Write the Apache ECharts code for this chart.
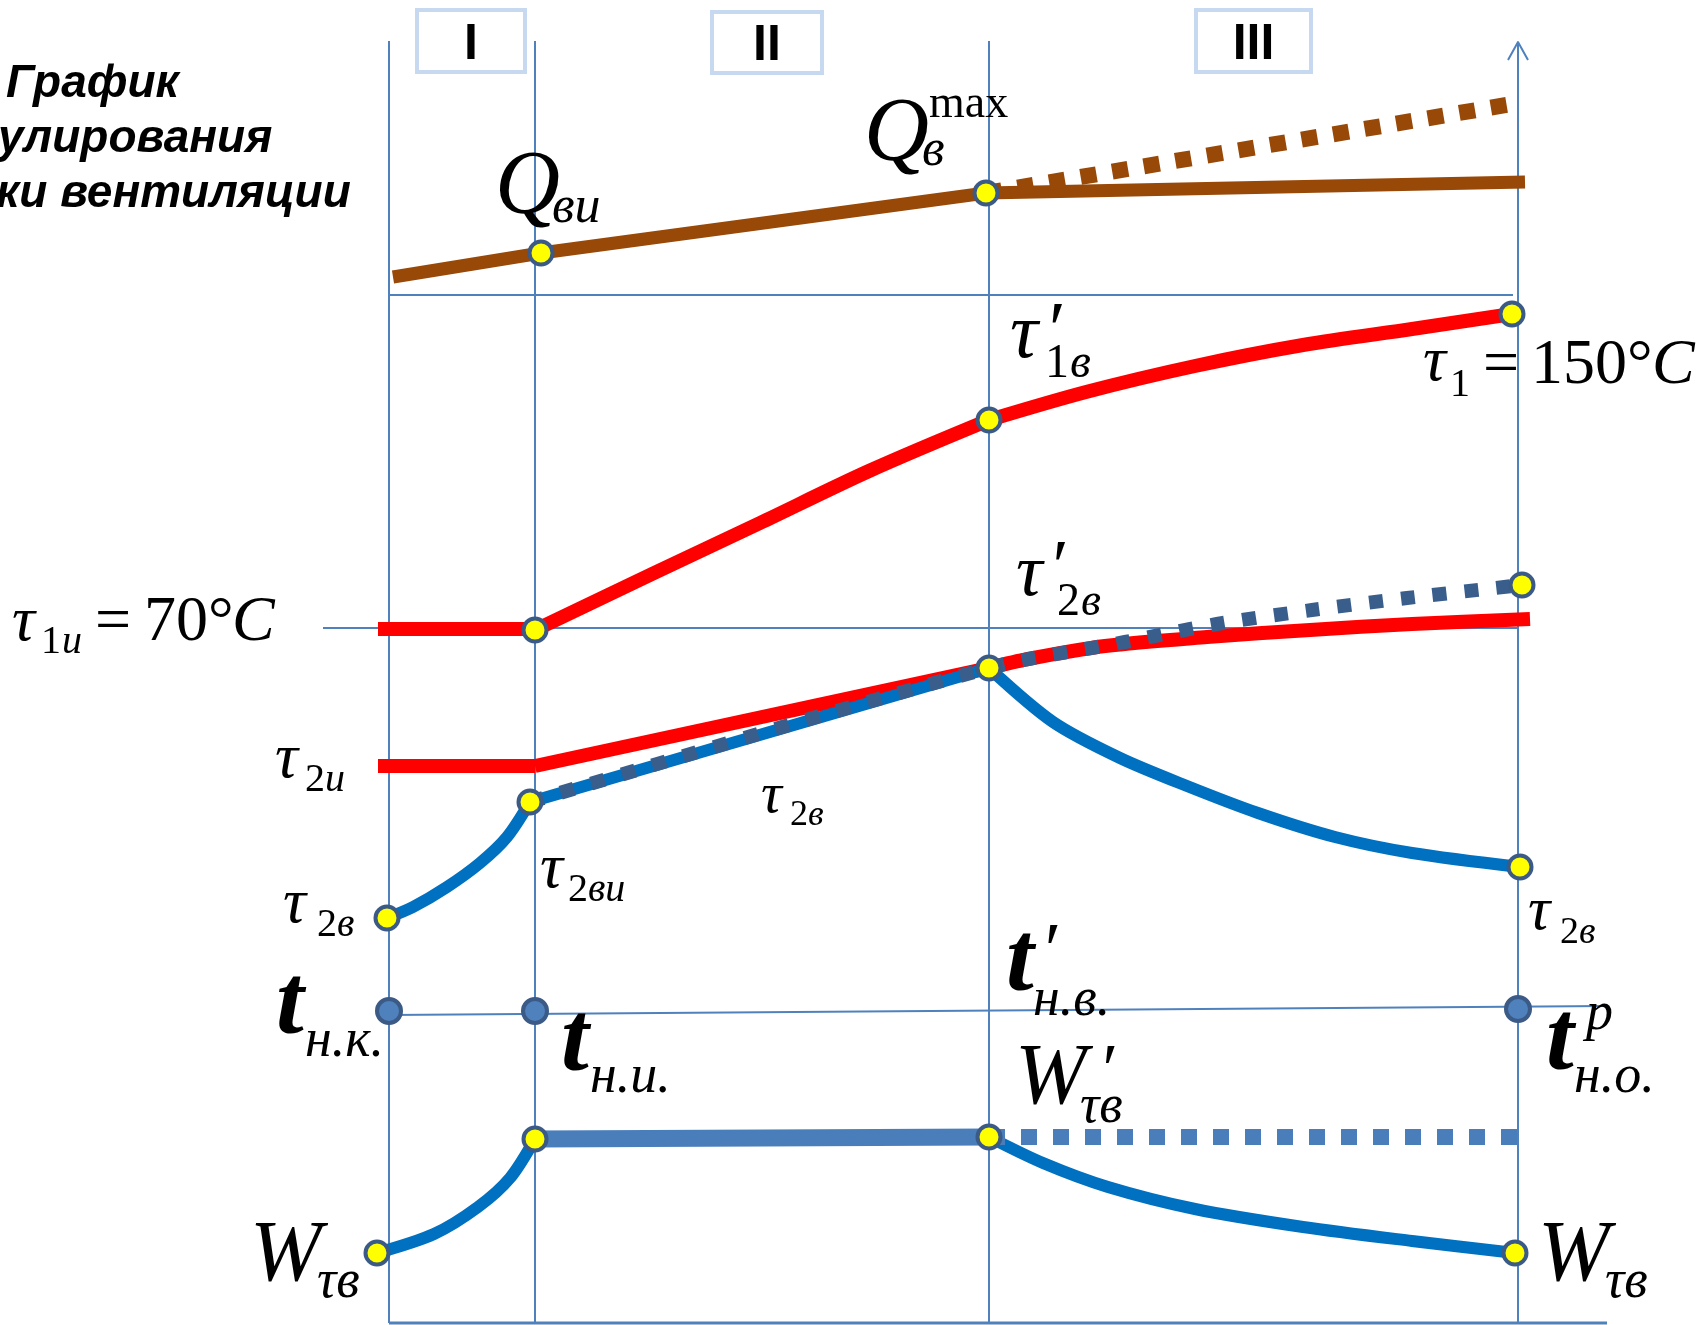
<!DOCTYPE html>
<html>
<head>
<meta charset="utf-8">
<script src="https://cdn.jsdelivr.net/npm/echarts@6/dist/echarts.min.js"></script>
<style>
  html, body { margin: 0; padding: 0; background: #fff; }
  #main { width: 1703px; height: 1325px; }
</style>
</head>
<body>
<div id="main"></div>
<script>
// schematic units: x = outdoor temperature position, y = value position (down is lower)
var gridX = [389, 535, 989, 1518];
var gridTop = [41, 41, 41, 42];
var gridBottom = 1323;
var sepLine = [[389, 295], [1513, 295]];
var tau1iLine = [[323, 628], [1518, 628]];
var tLine = [[389, 1015], [1607, 1006]];
var baseLine = [[389, 1323], [1607, 1323]];
var arrowHead = [[1508, 60], [1518, 42], [1528, 60]];

var qSolid = [[393, 277], [541, 253], [986, 193], [1525, 182]];
var qDotted = [[986, 193], [1518, 103]];

var tau1Flat = [[378, 629], [535, 629]];
var tau1Mid = [[535, 630], [652, 574], [760, 523], [869, 471], [989, 420]];
var tau1Right = [[989, 420], [1086, 392], [1195, 366], [1303, 345], [1412, 329], [1512, 314]];

var tau2Flat = [[378, 766], [535, 766]];
var tau2Mid = [[535, 766], [989, 668]];
var tau2Right = [[989, 668], [1028, 659], [1105, 646], [1207, 637], [1310, 630], [1412, 624], [1530, 619]];

var tau2vLeft = [[387, 918], [413, 907], [447, 887], [480, 863], [507, 837], [530, 802]];
var tau2vMid = [[530, 802], [989, 668]];
var tau2vDotted = [[530, 802], [989, 668], [1125, 642], [1217, 624], [1312, 610], [1407, 598], [1522, 585]];
var tau2vRight = [[989, 668], [1053, 722], [1120, 758], [1187, 786], [1258, 813], [1335, 837], [1412, 853], [1520, 867]];

var wLeft = [[377, 1253], [434, 1234], [478, 1207], [510, 1178], [535, 1139]];
var wFlat = [[535, 1139], [989, 1137]];
var wDotted = [[989, 1137], [1518, 1137]];
var wRight = [[989, 1137], [1043, 1163], [1108, 1187], [1195, 1209], [1303, 1227], [1412, 1241], [1515, 1253]];

var yellowPts = [[541, 253], [986, 193], [1512, 314], [989, 420], [535, 630], [989, 668], [1522, 585],
  [530, 802], [387, 918], [1520, 867], [377, 1253], [535, 1139], [989, 1137], [1515, 1253]];
var tPts = [[389, 1011], [535, 1011], [1518, 1009]];

var regimes = ['I', 'II', 'III'];
var titleLines = ['График', 'улирования', 'ки вентиляции'];

// label pieces: text, left x, baseline y, size, style
var labels = [
  ['Q', 495, 213, 90, 'i'], ['ви', 552, 222, 52, 'i'],
  ['Q', 864, 160, 90, 'i'], ['в', 922, 165, 52, 'i'], ['max', 929, 117, 46, 'n'],
  ['τ', 1010, 357, 78, 'i'], ['′', 1044, 355, 78, 'i'], ['1', 1045, 377, 48, 'n'], ['в', 1070, 377, 48, 'i'],
  ['τ', 1423, 380, 64, 'i'], ['1', 1450, 396, 40, 'n'], ['=', 1483, 383, 64, 'n'], ['150°', 1531, 383, 64, 'n'], ['C', 1652, 383, 64, 'i'],
  ['τ', 12, 640, 64, 'i'], ['1', 41, 653, 40, 'n'], ['и', 62, 653, 40, 'i'], ['=', 95, 640, 64, 'n'], ['70°', 144, 640, 64, 'n'], ['C', 232, 640, 64, 'i'],
  ['τ', 1016, 595, 74, 'i'], ['′', 1048, 591, 74, 'i'], ['2', 1057, 615, 46, 'n'], ['в', 1081, 615, 46, 'i'],
  ['τ', 275, 777, 64, 'i'], ['2', 305, 791, 40, 'n'], ['и', 325, 791, 40, 'i'],
  ['τ', 540, 887, 64, 'i'], ['2', 568, 901, 40, 'n'], ['ви', 588, 901, 40, 'i'],
  ['τ', 283, 922, 64, 'i'], ['2', 317, 936, 40, 'n'], ['в', 337, 936, 40, 'i'],
  ['τ', 761, 812, 58, 'i'], ['2', 790, 825, 36, 'n'], ['в', 808, 825, 36, 'i'],
  ['τ', 1528, 929, 62, 'i'], ['2', 1560, 943, 38, 'n'], ['в', 1579, 943, 38, 'i'],
  ['t', 276, 1033, 100, 'bi'], ['н.к.', 305, 1056, 54, 'i'],
  ['t', 561, 1070, 100, 'bi'], ['н.и.', 590, 1092, 54, 'i'],
  ['t', 1006, 990, 100, 'bi'], ['′', 1040, 975, 76, 'i'], ['н.в.', 1033, 1015, 54, 'i'],
  ['t', 1546, 1069, 100, 'bi'], ['p', 1586, 1029, 54, 'i'], ['н.о.', 1574, 1092, 54, 'i'],
  ['W', 1015, 1103, 86, 'i'], ['′', 1098, 1093, 72, 'i'], ['τв', 1080, 1122, 54, 'i'],
  ['W', 250, 1280, 86, 'i'], ['τв', 317, 1297, 54, 'i'],
  ['W', 1538, 1280, 86, 'i'], ['τв', 1605, 1297, 54, 'i']
];

var BROWN = '#984807', RED = '#ff0000', BLUE = '#0070c0', SLATE = '#3a5e8c', LIGHT = '#4a7ebb', THIN = '#4f81bd';

var chart = echarts.init(document.getElementById('main'));

function line(data, color, width, opts) {
  opts = opts || {};
  return {
    type: 'line', data: data, symbol: 'none', silent: true, clip: false,
    smooth: opts.smooth || false,
    lineStyle: { color: color, width: width, type: opts.dash || 'solid', cap: 'butt', join: 'round' },
    z: opts.z || 2
  };
}

var series = [];
gridX.forEach(function (x, i) {
  series.push(line([[x, gridTop[i]], [x, gridBottom]], THIN, 2, { z: 1 }));
});
[sepLine, tau1iLine, tLine, arrowHead].forEach(function (d) {
  series.push(line(d, THIN, 2, { z: 1 }));
});
series.push(line(baseLine, THIN, 3, { z: 1 }));

series.push(line(qSolid, BROWN, 13));
series.push(line(qDotted, BROWN, 16, { dash: [16, 16] }));
series.push(line(tau1Flat, RED, 14));
series.push(line(tau1Mid, RED, 14, { smooth: 0.3 }));
series.push(line(tau1Right, RED, 14, { smooth: 0.3 }));
series.push(line(tau2Flat, RED, 14));
series.push(line(tau2Mid, RED, 14));
series.push(line(tau2Right, RED, 14, { smooth: 0.3 }));
series.push(line(tau2vLeft, BLUE, 12, { smooth: 0.3 }));
series.push(line(tau2vMid, BLUE, 12));
series.push(line(tau2vRight, BLUE, 12, { smooth: 0.3 }));
series.push(line(tau2vDotted, SLATE, 14, { dash: [14, 18], smooth: 0.3 }));
series.push(line(wLeft, BLUE, 12, { smooth: 0.3 }));
series.push(line(wRight, BLUE, 12, { smooth: 0.3 }));
series.push(line(wFlat, LIGHT, 17));
series.push(line(wDotted, LIGHT, 16, { dash: [16, 16] }));

series.push({
  type: 'scatter', data: yellowPts, symbolSize: 23, silent: true, z: 5,
  itemStyle: { color: '#ffff00', borderColor: '#3b5a86', borderWidth: 4, opacity: 1 }
});
series.push({
  type: 'scatter', data: tPts, symbolSize: 24, silent: true, z: 5,
  itemStyle: { color: '#4f81bd', borderColor: '#3b5a86', borderWidth: 4, opacity: 1 }
});

var graphics = [];
labels.forEach(function (l) {
  var size = l[3];
  graphics.push({
    type: 'text', z: 100, silent: true,
    x: l[1], y: l[2] - 0.26 * size,
    style: {
      text: l[0], fill: '#000',
      fontFamily: '"Liberation Serif", "DejaVu Serif", serif',
      fontSize: size,
      fontStyle: l[4] === 'n' ? 'normal' : 'italic',
      fontWeight: l[4] === 'bi' ? 'bold' : 'normal',
      align: 'left', verticalAlign: 'middle',
      textAlign: 'left', textVerticalAlign: 'middle'
    }
  });
});

var titleX = [6, -2, -4];
titleLines.forEach(function (t, i) {
  graphics.push({
    type: 'text', z: 100, silent: true,
    x: titleX[i], y: 97 + i * 55 - 0.27 * 46,
    style: {
      text: t, fill: '#000',
      fontFamily: '"Liberation Sans", Arial, sans-serif',
      fontSize: 46, fontStyle: 'italic', fontWeight: 'bold',
      align: 'left', verticalAlign: 'middle',
      textAlign: 'left', textVerticalAlign: 'middle'
    }
  });
});

var boxes = [[417, 10, 108, 62], [712, 12, 110, 61], [1196, 10, 115, 62]];
regimes.forEach(function (r, i) {
  var b = boxes[i];
  graphics.push({
    type: 'rect', z: 90, silent: true,
    shape: { x: b[0], y: b[1], width: b[2], height: b[3] },
    style: { fill: '#fff', stroke: '#c6d9f1', lineWidth: 4 }
  });
  graphics.push({
    type: 'text', z: 100, silent: true,
    x: b[0] + b[2] / 2, y: b[1] + b[3] / 2 + 4,
    style: {
      text: r, fill: '#000',
      fontFamily: '"Liberation Sans", Arial, sans-serif',
      fontSize: 50, fontWeight: 'bold',
      align: 'center', verticalAlign: 'middle',
      textAlign: 'center', textVerticalAlign: 'middle'
    }
  });
});

var option = {
  animation: false,
  backgroundColor: '#fff',
  grid: { left: 0, right: 0, top: 0, bottom: 0 },
  xAxis: { type: 'value', min: 0, max: 1703, show: false },
  yAxis: { type: 'value', min: 0, max: 1325, inverse: true, show: false },
  series: series,
  graphic: graphics
};

option && chart.setOption(option);
window.addEventListener('resize', function () {
  chart.resize();
});
</script>
</body>
</html>
